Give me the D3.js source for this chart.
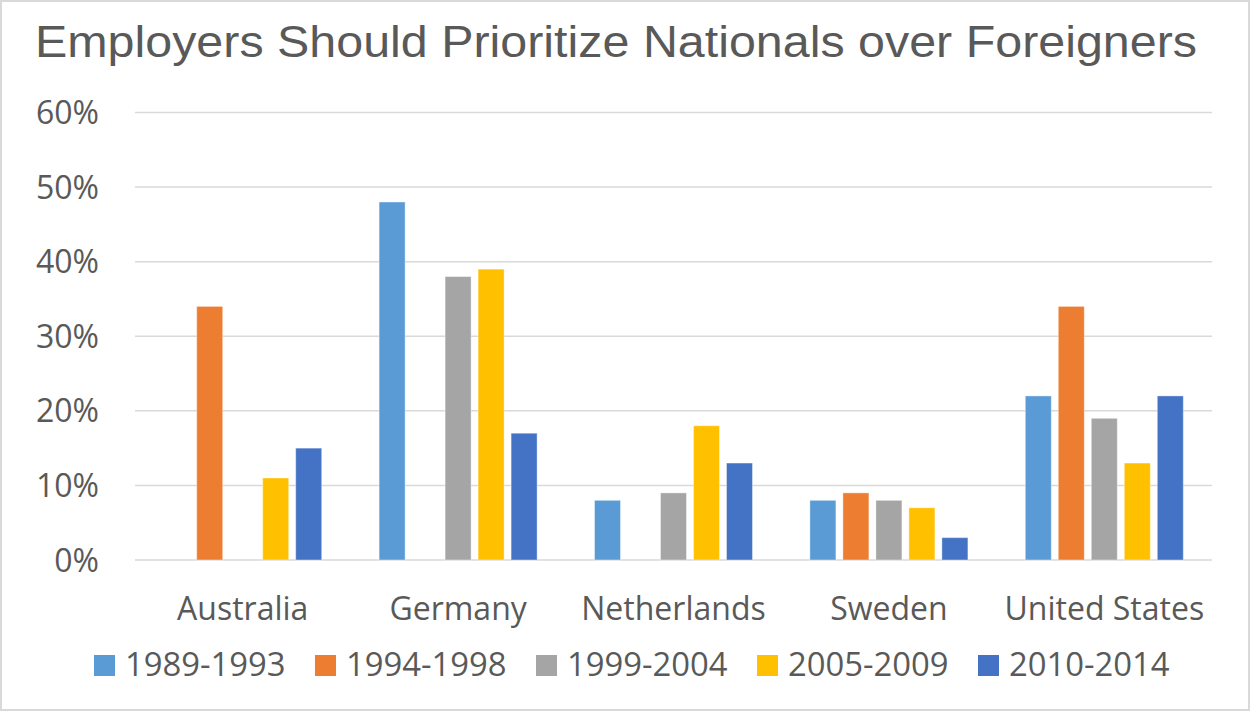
<!DOCTYPE html>
<html>
<head>
<meta charset="utf-8">
<script src="https://cdn.jsdelivr.net/npm/d3@7"></script>
<style>
  body { margin: 0; background: #fff; }
  text { font-family: "Open Sans", "Noto Sans", sans-serif; fill: #595959; }
</style>
</head>
<body>
<div id="chart"></div>
<script>
// data (percent), null = no bar
var countries = ["Australia", "Germany", "Netherlands", "Sweden", "United States"]
var periods = ["1989-1993", "1994-1998", "1999-2004", "2005-2009", "2010-2014"]
var colors = ["#5B9BD5", "#ED7D31", "#A5A5A5", "#FFC000", "#4472C4"]
var v1989 = [null, 48, 8, 8, 22]
var v1994 = [34, null, null, 9, 34]
var v1999 = [null, 38, 9, 8, 19]
var v2005 = [11, 39, 18, 7, 13]
var v2010 = [15, 17, 13, 3, 22]
var yTicks = [0, 10, 20, 30, 40, 50, 60]
var title = "Employers Should Prioritize Nationals over Foreigners"

var series = [v1989, v1994, v1999, v2005, v2010]

var width = 1250
var height = 711

var svg = d3.select("#chart").append("svg")
    .attr("width", width)
    .attr("height", height)

// outer frame
svg.append("rect")
    .attr("x", 1).attr("y", 1)
    .attr("width", width - 2).attr("height", height - 2)
    .attr("fill", "#fff")
    .attr("stroke", "#D9D9D9")
    .attr("stroke-width", 2)

svg.append("text")
    .attr("x", 35)
    .attr("y", 57)
    .style("font-family", "'Liberation Sans', Arial, sans-serif")
    .attr("font-size", 44)
    .attr("textLength", 1162)
    .attr("lengthAdjust", "spacingAndGlyphs")
    .text(title)

var plotLeft = 135, plotRight = 1212

var y = d3.scaleLinear().domain([0, 60]).range([560, 112.5])

var x0 = d3.scaleBand().domain(countries)
    .range([plotLeft, plotRight])
    .paddingInner(0.234).paddingOuter(0.117)

var x1 = d3.scaleBand().domain(d3.range(periods.length))
    .range([0, x0.bandwidth()])
    .paddingInner(0.212).paddingOuter(0.106)

// gridlines
svg.append("g").selectAll("line")
    .data(yTicks)
    .enter().append("line")
    .attr("x1", plotLeft).attr("x2", plotRight)
    .attr("y1", function(d){ return y(d) })
    .attr("y2", function(d){ return y(d) })
    .attr("stroke", "#D9D9D9")
    .attr("stroke-width", 1.5)

// y labels
svg.append("g").selectAll("text")
    .data(yTicks)
    .enter().append("text")
    .attr("x", 99)
    .attr("y", function(d){ return y(d) + 11.5 })
    .attr("text-anchor", "end")
    .attr("font-size", 32)
    .text(function(d){ return d + "%" })

// bars
var groups = svg.append("g").selectAll("g")
    .data(countries)
    .enter().append("g")
    .attr("transform", function(d){ return "translate(" + x0(d) + ",0)" })

groups.selectAll("rect")
    .data(function(d, ci){
        return series.map(function(s, si){ return {si: si, v: s[ci]} })
            .filter(function(e){ return e.v !== null })
    })
    .enter().append("rect")
    .attr("x", function(d){ return x1(d.si) })
    .attr("width", x1.bandwidth())
    .attr("y", function(d){ return y(d.v) })
    .attr("height", function(d){ return y(0) - y(d.v) })
    .attr("fill", function(d){ return colors[d.si] })
    .attr("stroke", "#fff")
    .attr("stroke-opacity", 0.4)
    .attr("stroke-width", 1)

// category labels
svg.append("g").selectAll("text")
    .data(countries)
    .enter().append("text")
    .attr("x", function(d){ return x0(d) + x0.bandwidth() / 2 })
    .attr("y", 620)
    .attr("text-anchor", "middle")
    .attr("font-size", 32)
    .text(function(d){ return d })

// legend
var legend = svg.append("g").selectAll("g")
    .data(periods)
    .enter().append("g")
    .attr("transform", function(d, i){ return "translate(" + (94 + i * 221) + ",655)" })

legend.append("rect")
    .attr("width", 21).attr("height", 21)
    .attr("fill", function(d, i){ return colors[i] })

legend.append("text")
    .attr("x", 31)
    .attr("y", 21)
    .attr("font-size", 32.8)
    .text(function(d){ return d })
</script>
</body>
</html>
